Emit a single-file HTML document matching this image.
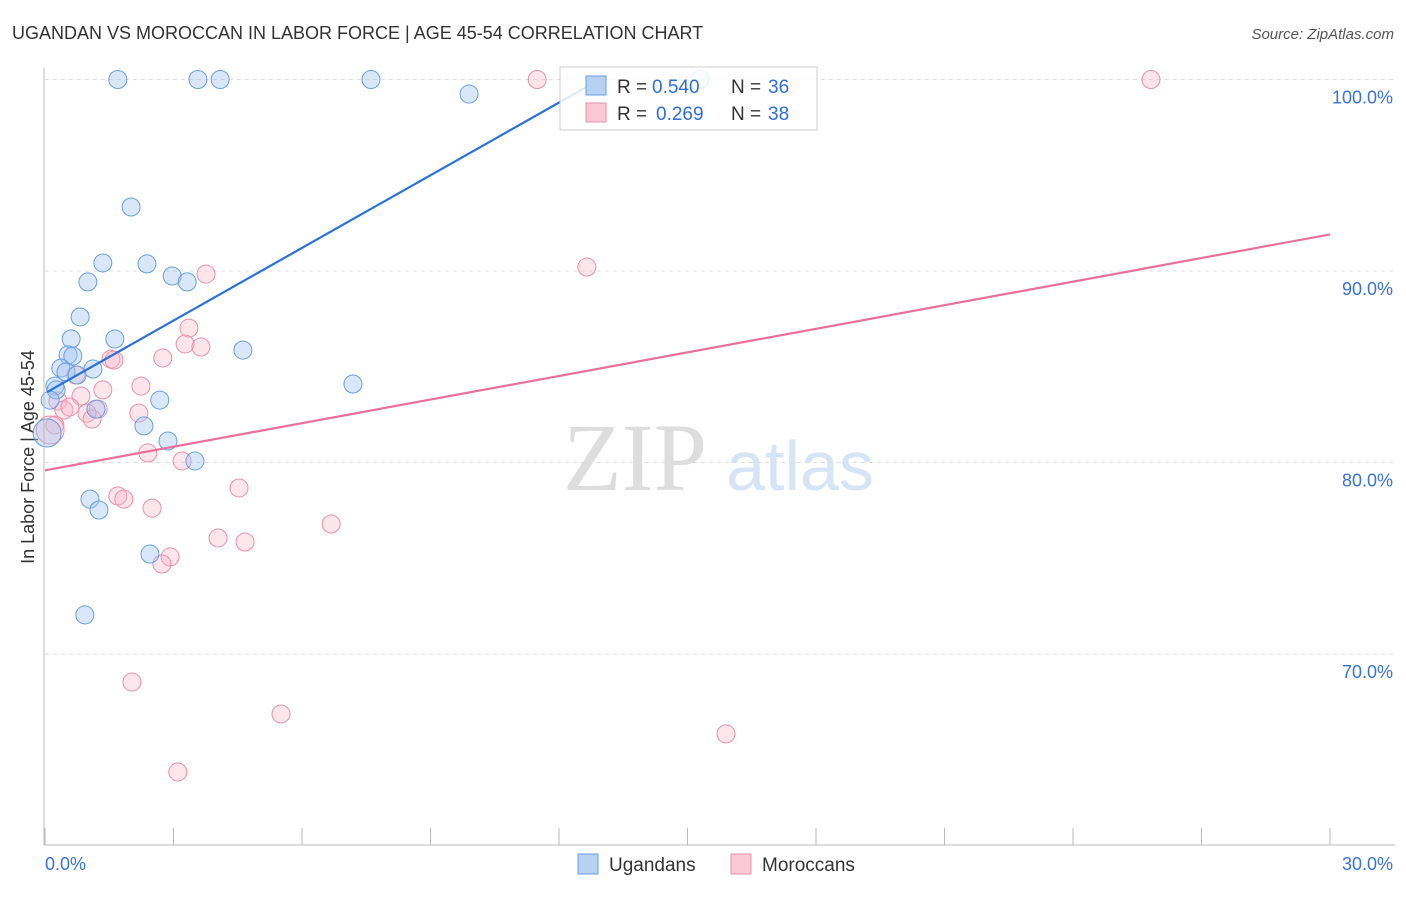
<!DOCTYPE html>
<html><head><meta charset="utf-8"><style>
body{margin:0;background:#fff;font-family:"Liberation Sans",sans-serif}
</style></head><body>
<svg id="c" width="1406" height="892" xmlns="http://www.w3.org/2000/svg" font-family="Liberation Sans, sans-serif">
<text x="12" y="39" font-size="18" fill="#333">UGANDAN VS MOROCCAN IN LABOR FORCE | AGE 45-54 CORRELATION CHART</text>
<text x="1394" y="39" font-size="15" fill="#555" font-style="italic" text-anchor="end">Source: ZipAtlas.com</text>
<text x="635" y="490" font-size="96" fill="#ddd" font-family="Liberation Serif, serif" text-anchor="middle">ZIP</text>
<text x="800" y="490" font-size="70" fill="#d6e4f5" text-anchor="middle">atlas</text>
<text transform="translate(34,457) rotate(-90)" font-size="18" fill="#333" text-anchor="middle">In Labor Force | Age 45-54</text>
<g id="grid"></g><g id="pts"></g><g id="lines"></g>
<line x1="44" y1="68" x2="44" y2="845" stroke="#bbb"/>
<line x1="44" y1="845" x2="1395" y2="845" stroke="#bbb"/>
<text x="45" y="870" font-size="18" fill="#3a72d6">0.0%</text>
<text x="1393" y="870" font-size="18" fill="#3a72d6" text-anchor="end">30.0%</text>
<g>
<rect x="560" y="67" width="257" height="63" fill="rgba(255,255,255,0.85)" stroke="#ccc"/>
<rect x="586" y="76" width="20" height="19" fill="#b7d1f3" stroke="#6a9ee0"/>
<rect x="586" y="103" width="20" height="19" fill="#f9c7d6" stroke="#e890aa"/>
<text x="617" y="93" font-size="19" fill="#333">R =</text><text x="652" y="93" font-size="19" fill="#2f6fd4">0.540</text>
<text x="731" y="93" font-size="19" fill="#333">N =</text><text x="768" y="93" font-size="19" fill="#2f6fd4">36</text>
<text x="617" y="120" font-size="19" fill="#333">R =</text><text x="656" y="120" font-size="19" fill="#2f6fd4">0.269</text>
<text x="731" y="120" font-size="19" fill="#333">N =</text><text x="768" y="120" font-size="19" fill="#2f6fd4">38</text>
</g>
<g>
<rect x="578" y="854" width="20" height="20" fill="#b7d1f3" stroke="#6a9ee0"/>
<text x="609" y="871" font-size="19" fill="#333">Ugandans</text>
<rect x="731" y="854" width="20" height="20" fill="#f9c7d6" stroke="#e890aa"/>
<text x="762" y="871" font-size="19" fill="#333">Moroccans</text>
</g>
</svg>
<script>
const blueX=[1.70,3.57,4.09,7.61,9.90,15.29,2.01,1.35,2.38,2.97,3.32,1.00,0.82,0.61,1.63,0.54,0.65,0.37,0.49,0.75,1.12,4.62,0.23,0.26,7.19,2.68,1.19,2.31,2.87,3.50,1.05,1.26,2.45,0.93,0.05,0.12];
const blueY=[100,100,100,100,99.24,100,93.34,90.42,90.37,89.74,89.43,89.43,87.60,86.45,86.45,85.62,85.56,84.93,84.73,84.57,84.88,85.87,83.99,83.79,84.10,83.26,82.79,81.91,81.12,80.08,78.09,77.52,75.22,72.04,81.54,83.26];
const pinkX=[11.49,25.82,12.65,3.76,3.36,3.27,3.64,2.75,1.54,1.61,0.72,2.24,1.35,0.84,0.30,1.24,2.19,0.98,0.44,0.58,1.10,0.23,0.12,2.40,3.20,4.53,1.70,1.84,2.50,6.68,4.04,4.67,2.92,2.73,2.03,5.51,15.90,3.10];
const pinkY=[100,100,90.21,89.84,87.02,86.19,86.03,85.46,85.40,85.35,84.57,83.99,83.79,83.47,83.21,82.79,82.58,82.58,82.74,82.90,82.27,81.96,81.70,80.50,80.08,78.67,78.25,78.09,77.62,76.79,76.06,75.85,75.07,74.70,68.54,66.87,65.83,63.84];
const blueLine=[[0.05,83.68],[12.85,99.87]];
const pinkLine=[[0,79.59],[30,91.91]];
const yTicks=[100,90,80,70];
const yTickLabels=["100.0%","90.0%","80.0%","70.0%"];
const xTicks=[0,3,6,9,12,15,18,21,24,27,30];
const NS="http://www.w3.org/2000/svg";
const sx=v=>45+v/30*1285, sy=v=>79.5+(100-v)*19.15;
function mk(t,a,p){const e=document.createElementNS(NS,t);for(const k in a)e.setAttribute(k,a[k]);p.appendChild(e);return e;}
const grid=document.getElementById('grid'),pts=document.getElementById('pts'),lines=document.getElementById('lines');
yTicks.forEach((v,i)=>{
 const l=mk('line',{x1:45,x2:1395,y1:sy(v),y2:sy(v),stroke:'#ddd','stroke-dasharray':'4,4'},grid);
 
 
 const t=mk('text',{x:1393,y:sy(v)+24,'font-size':18,fill:'#3a72d6','text-anchor':'end'},grid);
 t.textContent=yTickLabels[i];
 
 
});
xTicks.forEach(v=>{
 const l=mk('line',{x1:sx(v),x2:sx(v),y1:828,y2:845,stroke:'#bbb'},grid);
 
 
});
function dots(X,Y,fill,stroke,name,bigIdx){X.forEach((x,i)=>{
 const c=mk('circle',{cx:sx(x),cy:sy(Y[i]),r:i===bigIdx?14:9,fill:fill,stroke:stroke,'stroke-width':1},pts);
 
 
});}
dots(pinkX,pinkY,'rgba(248,180,200,0.35)','#e890aa','moroccan-point',22);
dots(blueX,blueY,'rgba(160,196,240,0.4)','#6a9ee0','ugandan-point',34);
const bl=mk('line',{x1:sx(blueLine[0][0]),y1:sy(blueLine[0][1]),x2:sx(blueLine[1][0]),y2:sy(blueLine[1][1]),stroke:'#2a72d8','stroke-width':2.2},lines);


const pl=mk('line',{x1:sx(pinkLine[0][0]),y1:sy(pinkLine[0][1]),x2:sx(pinkLine[1][0]),y2:sy(pinkLine[1][1]),stroke:'#e8709a','stroke-width':2.2},lines);


</script>
</body></html>
